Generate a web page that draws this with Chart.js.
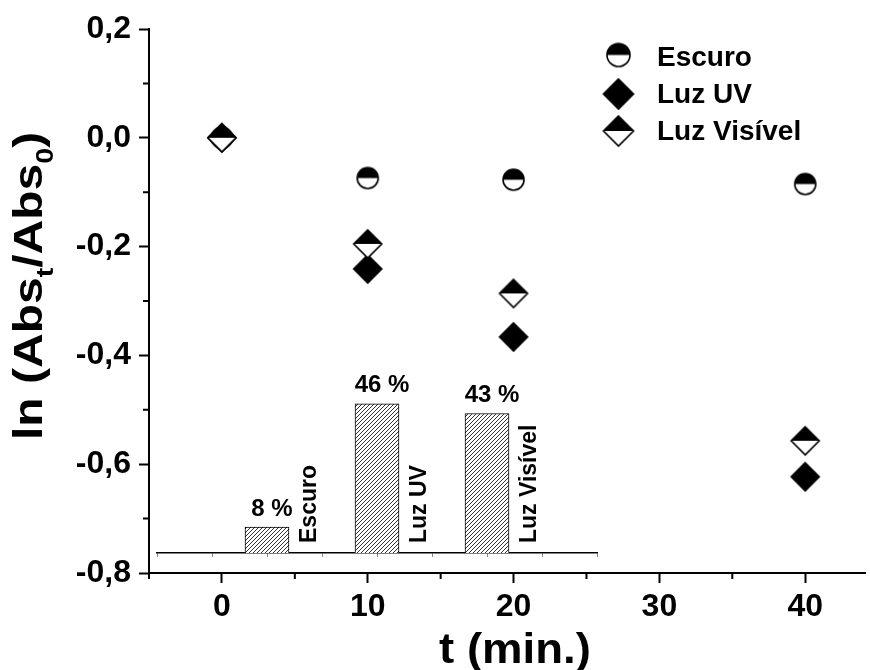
<!DOCTYPE html>
<html>
<head>
<meta charset="utf-8">
<script src="https://cdn.jsdelivr.net/npm/chart.js@4.4.1/dist/chart.umd.min.js"></script>
<style>
  html, body { margin: 0; padding: 0; background: #fff; }
  #wrap { position: relative; width: 870px; height: 670px; }
  #main { position: absolute; left: 0; top: 0; }
  #inset { position: absolute; left: 150px; top: 360px; }
</style>
</head>
<body>
<div id="wrap">
  <canvas id="main" width="870" height="670"></canvas>
  <canvas id="inset" width="460" height="200"></canvas>
</div>
<script>
// ---- data ----
const times = [0, 10, 20, 40];                       // t (min.)
const escuro = [0, -0.074, -0.077, -0.085];          // ln(Abs_t/Abs_0), dark
const luzUV = [0, -0.241, -0.366, -0.623];           // UV light
const luzVisivel = [0, -0.195, -0.286, -0.557];      // visible light
const seriesNames = ['Escuro', 'Luz UV', 'Luz Visível'];
const degradationPct = [8, 46, 43];                  // inset bars (%)
const xMinorTicks = [-5, 5, 15, 25, 35];
const yMinorTicks = [-0.7, -0.5, -0.3, -0.1, 0.1];

const FONT = '"Liberation Sans", Arial, Helvetica, sans-serif';

// ---- marker images ----
function makeMarker(kind, r) {
  const s = Math.ceil(r * 2 + 6);
  const c = document.createElement('canvas');
  c.width = s; c.height = s;
  const g = c.getContext('2d');
  const cx = s / 2, cy = s / 2;
  g.lineWidth = 1.6;
  g.strokeStyle = '#000';
  if (kind === 'halfCircle') {
    g.beginPath(); g.arc(cx, cy, r, 0, 2 * Math.PI); g.fillStyle = '#fff'; g.fill();
    g.beginPath(); g.arc(cx, cy, r, Math.PI, 2 * Math.PI); g.closePath(); g.fillStyle = '#000'; g.fill();
    g.beginPath(); g.arc(cx, cy, r, 0, 2 * Math.PI); g.stroke();
  } else if (kind === 'diamond') {
    g.beginPath(); g.moveTo(cx, cy - r); g.lineTo(cx + r, cy); g.lineTo(cx, cy + r); g.lineTo(cx - r, cy); g.closePath();
    g.fillStyle = '#000'; g.fill(); g.stroke();
  } else if (kind === 'halfDiamond') {
    g.beginPath(); g.moveTo(cx, cy - r); g.lineTo(cx + r, cy); g.lineTo(cx, cy + r); g.lineTo(cx - r, cy); g.closePath();
    g.fillStyle = '#fff'; g.fill();
    g.beginPath(); g.moveTo(cx, cy - r); g.lineTo(cx + r, cy); g.lineTo(cx - r, cy); g.closePath();
    g.fillStyle = '#000'; g.fill();
    g.beginPath(); g.moveTo(cx, cy - r); g.lineTo(cx + r, cy); g.lineTo(cx, cy + r); g.lineTo(cx - r, cy); g.closePath();
    g.stroke();
  }
  return c;
}
const markerKinds = ['halfCircle', 'diamond', 'halfDiamond'];
const markerRadius = [10.5, 14, 14];
const legendRadius = [11.5, 15, 15];
const plotMarkers = markerKinds.map((k, i) => makeMarker(k, markerRadius[i]));
const legendMarkers = markerKinds.map((k, i) => makeMarker(k, legendRadius[i]));

const seriesValues = [escuro, luzUV, luzVisivel];

// ---- legend, axis titles and minor ticks ----
const decorations = {
  id: 'decorations',
  afterDraw(chart) {
    const { ctx, chartArea: a, scales: { x, y } } = chart;
    ctx.save();
    // minor ticks
    ctx.strokeStyle = '#000';
    ctx.lineWidth = 2;
    ctx.beginPath();
    xMinorTicks.forEach(v => {
      const p = x.getPixelForValue(v);
      ctx.moveTo(p, a.bottom); ctx.lineTo(p, a.bottom + 6);
    });
    yMinorTicks.forEach(v => {
      const p = y.getPixelForValue(v);
      ctx.moveTo(a.left, p); ctx.lineTo(a.left - 6, p);
    });
    ctx.stroke();

    // legend
    const rowsY = [55, 94, 131];
    const baseY = [66, 103, 140];
    chart.data.datasets.forEach((ds, i) => {
      const img = legendMarkers[i];
      ctx.drawImage(img, 618.5 - img.width / 2, rowsY[i] - img.height / 2);
      ctx.fillStyle = '#000';
      ctx.font = 'bold 28px ' + FONT;
      ctx.textAlign = 'left';
      ctx.textBaseline = 'alphabetic';
      ctx.fillText(ds.label, 657, baseY[i]);
    });

    // x title
    ctx.save();
    ctx.translate(515, 663);
    ctx.scale(1.06, 1);
    ctx.font = 'bold 43px ' + FONT;
    ctx.textAlign = 'center';
    ctx.textBaseline = 'alphabetic';
    ctx.fillText('t (min.)', 0, 0);
    ctx.restore();

    // y title with subscripts
    ctx.save();
    ctx.translate(42, 440);
    ctx.rotate(-Math.PI / 2);
    ctx.scale(1.2, 1);
    ctx.textAlign = 'left';
    ctx.textBaseline = 'alphabetic';
    const big = 'bold 40px ' + FONT, small = 'bold 24px ' + FONT;
    const parts = [['ln (Abs', big, 0], ['t', small, 11], ['/Abs', big, 0], ['0', small, 11], [')', big, 0]];
    let px = 0;
    parts.forEach(([t, f, dy]) => {
      ctx.font = f;
      ctx.fillText(t, px, dy);
      px += ctx.measureText(t).width;
    });
    ctx.restore();
    ctx.restore();
  }
};

const tickFont = { family: FONT, size: 32, weight: 'bold' };

new Chart(document.getElementById('main'), {
  type: 'scatter',
  data: {
    datasets: seriesNames.map((name, i) => ({
      label: name,
      data: times.map((t, j) => ({ x: t, y: seriesValues[i][j] })),
      pointStyle: plotMarkers[i],
      order: 3 - i
    }))
  },
  options: {
    responsive: false,
    animation: false,
    events: [],
    layout: { padding: { top: 29, right: 0, left: 0, bottom: 0 } },
    plugins: { legend: { display: false }, tooltip: { enabled: false } },
    scales: {
      x: {
        type: 'linear',
        min: -5,
        max: 44.1,
        afterFit(s) { s.height = 97; },
        border: { color: '#000', width: 2 },
        grid: { drawOnChartArea: false, tickLength: 10, tickColor: '#000', tickWidth: 2 },
        ticks: { stepSize: 10, includeBounds: false, color: '#000', font: tickFont, padding: 5, maxRotation: 0 }
      },
      y: {
        type: 'linear',
        min: -0.8,
        max: 0.2,
        afterFit(s) { s.width = 149; },
        border: { color: '#000', width: 2 },
        grid: { drawOnChartArea: false, tickLength: 10, tickColor: '#000', tickWidth: 2 },
        ticks: {
          stepSize: 0.2,
          color: '#000',
          font: tickFont,
          padding: 8,
          callback: v => (Math.abs(v) < 1e-9 ? 0 : v).toFixed(1).replace('.', ',')
        }
      }
    }
  },
  plugins: [decorations]
});

// ---- inset bar chart ----
const insetCanvas = document.getElementById('inset');
const ictx = insetCanvas.getContext('2d');
function hatchPattern(ctx) {
  const t = document.createElement('canvas');
  t.width = 4; t.height = 4;
  const g = t.getContext('2d');
  g.fillStyle = '#fff'; g.fillRect(0, 0, 4, 4);
  g.strokeStyle = '#1a1a1a'; g.lineWidth = 0.9;
  g.beginPath();
  g.moveTo(-1, 5); g.lineTo(5, -1);
  g.moveTo(-1, 1); g.lineTo(1, -1);
  g.moveTo(3, 5); g.lineTo(5, 3);
  g.stroke();
  return ctx.createPattern(t, 'repeat');
}

const barLabels = {
  id: 'barLabels',
  afterDatasetsDraw(chart) {
    const ctx = chart.ctx;
    const meta = chart.getDatasetMeta(0);
    ctx.save();
    ctx.fillStyle = '#000';
    meta.data.forEach((bar, i) => {
      ctx.font = 'bold 24px ' + FONT;
      ctx.textAlign = 'center';
      ctx.textBaseline = 'alphabetic';
      ctx.fillText(degradationPct[i] + ' %', bar.x + 5, bar.y - 11.5);
      ctx.save();
      ctx.font = 'bold 23px ' + FONT;
      ctx.translate(bar.x + bar.width / 2 + 27.3, chart.chartArea.bottom - 10);
      ctx.rotate(-Math.PI / 2);
      ctx.textAlign = 'left';
      ctx.fillText(seriesNames[i], 0, 0);
      ctx.restore();
    });
    ctx.restore();
  }
};

new Chart(insetCanvas, {
  type: 'bar',
  data: {
    datasets: [{
      label: 'Degradação (%)',
      data: degradationPct.map((p, i) => ({ x: i + 1, y: p })),
      backgroundColor: hatchPattern(ictx),
      borderColor: '#000',
      borderWidth: 1,
      barThickness: 44
    }]
  },
  options: {
    responsive: false,
    animation: false,
    events: [],
    layout: { padding: { left: 7, right: 13, top: 30.75, bottom: 0 } },
    plugins: { legend: { display: false }, tooltip: { enabled: false } },
    scales: {
      x: {
        type: 'linear',
        min: 0,
        max: 4,
        offset: false,
        afterFit(s) { s.height = 7; },
        border: { color: '#000', width: 1.5 },
        grid: { drawOnChartArea: false, offset: false, tickLength: 4, tickColor: '#888', tickWidth: 1 },
        ticks: { display: false, stepSize: 0.5 }
      },
      y: { display: false, min: 0, max: 50 }
    }
  },
  plugins: [barLabels]
});
</script>
</body>
</html>
